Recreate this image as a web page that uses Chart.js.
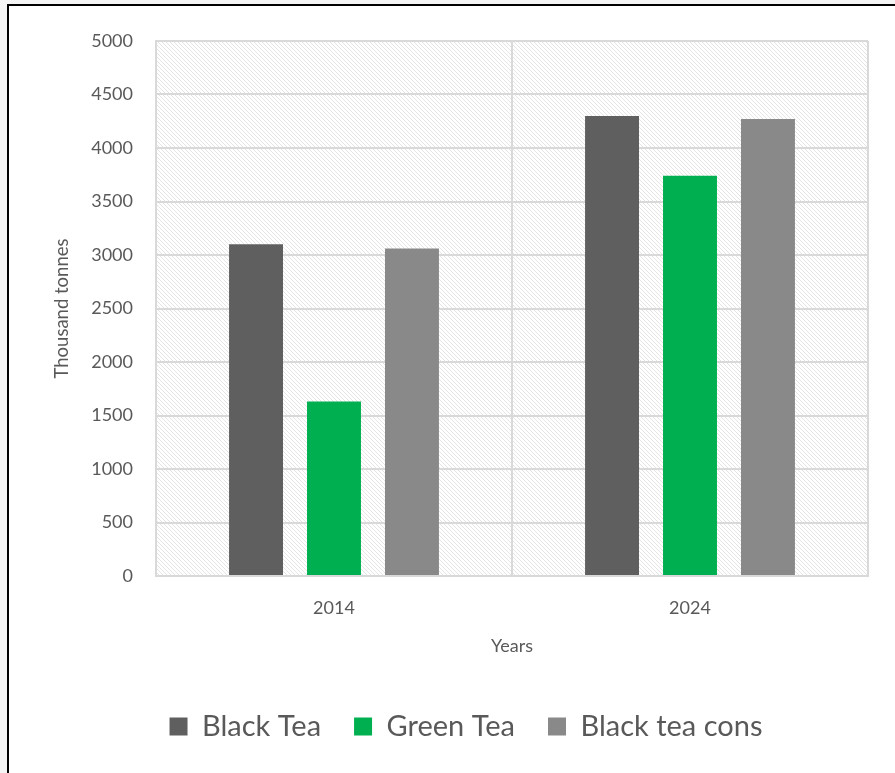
<!DOCTYPE html>
<html>
<head>
<meta charset="utf-8">
<script src="https://cdn.jsdelivr.net/npm/chart.js@4.4.1/dist/chart.umd.min.js"></script>
<style>
  html, body { margin: 0; padding: 0; background: #f4f4f4; overflow: hidden; }
  #frame {
    position: absolute; left: 7px; top: 4px; width: 900px; height: 800px;
    border-left: 2px solid #000; border-top: 2px solid #000; background: #fff;
  }
  #wrap { position: absolute; left: 0; top: 0; width: 895px; height: 773px; }
</style>
</head>
<body>
<div id="frame"></div>
<div id="wrap"><canvas id="teaChart"></canvas></div>
<script>
  // values (thousand tonnes)
  const years = ['2014', '2024'];
  const blackTea = [3100, 4300];
  const greenTea = [1630, 3740];
  const blackTeaCons = [3060, 4270];
  const yTicks = [0, 500, 1000, 1500, 2000, 2500, 3000, 3500, 4000, 4500, 5000];

  const textColor = '#595959';
  const gridColor = '#d9d9d9';
  const fontFamily = 'Lato, "Open Sans", sans-serif';

  // light diagonal hatch used as the plot background
  function makeHatch() {
    const c = document.createElement('canvas');
    c.width = 4; c.height = 4;
    const g = c.getContext('2d');
    g.fillStyle = '#ffffff';
    g.fillRect(0, 0, 4, 4);
    g.fillStyle = '#e4e4e4';
    for (let i = 0; i < 4; i++) g.fillRect(i, i, 1, 1);
    return g.createPattern(c, 'repeat');
  }

  const hatchBackground = {
    id: 'hatchBackground',
    beforeDraw(chart) {
      const { ctx, chartArea } = chart;
      ctx.save();
      ctx.fillStyle = makeHatch();
      ctx.fillRect(chartArea.left, chartArea.top, chartArea.right - chartArea.left, chartArea.bottom - chartArea.top);
      ctx.restore();
    }
  };

  const ctx = document.getElementById('teaChart').getContext('2d');
  new Chart(ctx, {
    type: 'bar',
    data: {
      labels: years,
      datasets: [
        { label: 'Black Tea', data: blackTea, backgroundColor: '#5f5f5f' },
        { label: 'Green Tea', data: greenTea, backgroundColor: '#00b050' },
        { label: 'Black tea cons', data: blackTeaCons, backgroundColor: '#898989' }
      ]
    },
    options: {
      responsive: true,
      maintainAspectRatio: false,
      animation: false,
      devicePixelRatio: 1,
      layout: { padding: { left: 64, right: 27, top: 41, bottom: 22 } },
      datasets: {
        bar: { categoryPercentage: 0.657, barPercentage: 0.692 }
      },
      plugins: {
        legend: {
          position: 'bottom',
          labels: {
            boxWidth: 18,
            boxHeight: 18,
            padding: 33,
            color: textColor,
            font: { family: fontFamily, size: 29 }
          }
        },
        tooltip: { enabled: false }
      },
      scales: {
        x: {
          grid: { color: gridColor, lineWidth: 2, drawTicks: false, offset: true },
          border: { color: gridColor, width: 2 },
          ticks: { color: textColor, font: { family: fontFamily, size: 18 }, padding: 21 },
          title: {
            display: true, text: 'Years', color: textColor,
            font: { family: fontFamily, size: 18 }, padding: { top: 10, bottom: 22 }
          },
          afterFit(scale) { scale.height = 103; }
        },
        y: {
          min: 0,
          max: 5000,
          afterBuildTicks(scale) { scale.ticks = yTicks.map(v => ({ value: v })); },
          grid: { color: gridColor, lineWidth: 2, drawTicks: false },
          border: { color: gridColor, width: 2 },
          ticks: {
            color: textColor, font: { family: fontFamily, size: 18 }, padding: 23,
            callback: (v) => String(v)
          },
          title: {
            display: true, text: 'Thousand tonnes', color: textColor,
            font: { family: fontFamily, size: 18.5 }, padding: { top: -13, bottom: 0 }
          },
          afterFit(scale) { scale.width = 92; }
        }
      }
    },
    plugins: [hatchBackground]
  });
</script>
</body>
</html>
